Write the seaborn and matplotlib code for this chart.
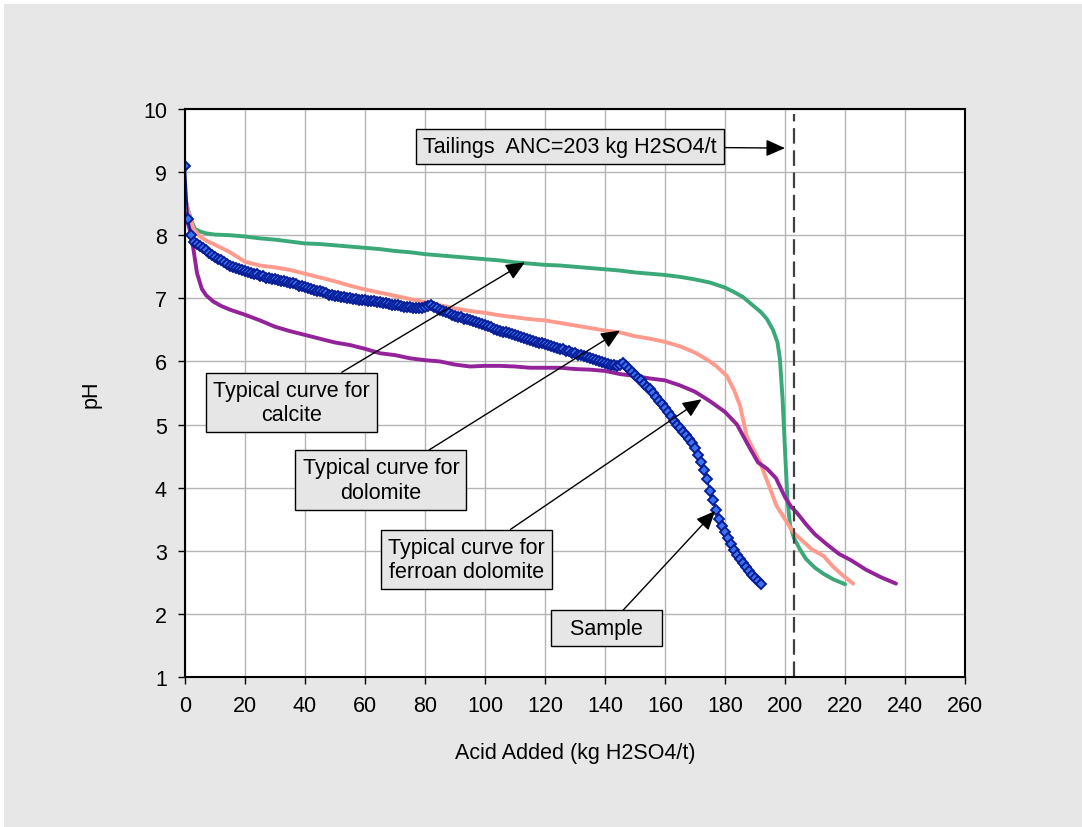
import pandas as pd
import matplotlib.pyplot as plt
import seaborn as sns
from matplotlib.patches import Rectangle

# valeurs
calcite_x = [0, 0.6, 2, 3.3, 5, 7, 10, 15, 20, 25, 30, 35, 40, 45, 50, 55, 60, 65, 70, 75,
             80, 85, 90, 95, 100, 105, 110, 115, 120, 125, 130, 135, 140, 145, 150, 155, 160,
             165, 170, 175, 180, 183, 186, 189, 192, 194, 196, 197.5, 198.3, 199.2, 200, 200.8,
             201.7, 203, 205, 207, 210, 213, 216, 220]
calcite_pH = [8.6, 8.47, 8.25, 8.1, 8.06, 8.03, 8.01, 8.0, 7.98, 7.95, 7.93, 7.9, 7.87, 7.86,
              7.84, 7.82, 7.8, 7.78, 7.75, 7.73, 7.7, 7.68, 7.66, 7.64, 7.62, 7.6, 7.57, 7.55,
              7.53, 7.52, 7.5, 7.48, 7.46, 7.44, 7.41, 7.39, 7.37, 7.34, 7.3, 7.25, 7.17, 7.1,
              7.02, 6.9, 6.78, 6.67, 6.5, 6.3, 6.04, 5.4, 4.6, 3.82, 3.4, 3.2, 3.02, 2.87, 2.73,
              2.63, 2.55, 2.47]

dolomite_x = [0, 1, 2.8, 5, 7.2, 10, 15, 20, 25, 30, 35, 40, 45, 50, 55, 60, 65, 70, 75, 80,
              85, 90, 95, 100, 105, 110, 115, 120, 125, 130, 135, 140, 145, 150, 155, 160, 165,
              170, 174, 177, 180.6, 183, 185, 187.2, 189.5, 191.7, 194.5, 197.2, 200, 202.8,
              206, 209, 212.8, 216, 219, 222.7]
dolomite_pH = [8.6, 8.4, 8.1, 7.98, 7.91, 7.85, 7.73, 7.58, 7.52, 7.49, 7.45, 7.39, 7.33, 7.27,
               7.2, 7.14, 7.09, 7.04, 6.99, 6.94, 6.89, 6.84, 6.8, 6.77, 6.73, 6.7, 6.67, 6.65,
               6.61, 6.57, 6.53, 6.49, 6.46, 6.4, 6.36, 6.31, 6.24, 6.14, 6.03, 5.93, 5.77, 5.55,
               5.3, 4.82, 4.6, 4.4, 4.05, 3.71, 3.5, 3.29, 3.15, 3.02, 2.92, 2.75, 2.62, 2.48]

ferroan_x = [0, 1.5, 2.8, 4, 5.6, 7, 9.4, 12, 15, 20, 25, 30, 35, 40, 45, 50, 55, 60, 65, 70,
             75, 80, 85, 90, 95, 100, 105, 110, 115, 120, 125, 130, 135, 140, 145, 150, 155,
             160, 165, 170, 175, 180, 184, 188, 191, 194, 197, 200, 202, 204, 207, 210, 214,
             218, 222, 227, 232, 237]
ferroan_pH = [8.35, 8.1, 7.78, 7.4, 7.15, 7.05, 6.95, 6.88, 6.82, 6.74, 6.65, 6.55, 6.48, 6.42,
              6.36, 6.3, 6.26, 6.2, 6.13, 6.1, 6.05, 6.02, 6.0, 5.95, 5.92, 5.93, 5.93, 5.92,
              5.9, 5.9, 5.9, 5.88, 5.87, 5.85, 5.8, 5.77, 5.73, 5.7, 5.62, 5.52, 5.37, 5.2, 5.0,
              4.65, 4.4, 4.3, 4.15, 3.85, 3.7, 3.6, 3.42, 3.26, 3.1, 2.95, 2.85, 2.7, 2.58, 2.48]

# échantillon : un point par kg ajouté
sample_x = [0, 1, 2, 3, 4, 5, 6, 7, 8, 9,
            10, 11, 12, 13, 14, 15, 16, 17, 18, 19,
            20, 21, 22, 23, 24, 25, 26, 27, 28, 29,
            30, 31, 32, 33, 34, 35, 36, 37, 38, 39,
            40, 41, 42, 43, 44, 45, 46, 47, 48, 49,
            50, 51, 52, 53, 54, 55, 56, 57, 58, 59,
            60, 61, 62, 63, 64, 65, 66, 67, 68, 69,
            70, 71, 72, 73, 74, 75, 76, 77, 78, 79,
            80, 81, 82, 83, 84, 85, 86, 87, 88, 89,
            90, 91, 92, 93, 94, 95, 96, 97, 98, 99,
            100, 101, 102, 103, 104, 105, 106, 107, 108, 109,
            110, 111, 112, 113, 114, 115, 116, 117, 118, 119,
            120, 121, 122, 123, 124, 125, 126, 127, 128, 129,
            130, 131, 132, 133, 134, 135, 136, 137, 138, 139,
            140, 141, 142, 143, 144, 145, 146, 147, 148, 149,
            150, 151, 152, 153, 154, 155, 156, 157, 158, 159,
            160, 161, 162, 163, 164, 165, 166, 167, 168, 169,
            170, 171, 172, 173, 174, 175, 176, 177, 178, 179,
            180, 181, 182, 183, 184, 185, 186, 187, 188, 189,
            190, 191, 192]
sample_pH = [9.1, 8.25, 8.0, 7.9, 7.86, 7.83, 7.8, 7.76, 7.72, 7.69,
             7.66, 7.62, 7.6, 7.57, 7.55, 7.52, 7.5, 7.48, 7.47, 7.45,
             7.44, 7.42, 7.4, 7.39, 7.38, 7.36, 7.35, 7.33, 7.32, 7.31,
             7.3, 7.29, 7.28, 7.27, 7.26, 7.25, 7.24, 7.22, 7.2, 7.19,
             7.18, 7.16, 7.15, 7.13, 7.12, 7.11, 7.1, 7.08, 7.06, 7.05,
             7.04, 7.03, 7.02, 7.02, 7.01, 7.0, 6.99, 6.99, 6.98, 6.97,
             6.97, 6.96, 6.95, 6.95, 6.94, 6.94, 6.93, 6.92, 6.91, 6.9,
             6.9, 6.89, 6.88, 6.87, 6.86, 6.86, 6.85, 6.84, 6.84, 6.85,
             6.86, 6.88, 6.9, 6.87, 6.84, 6.82, 6.8, 6.78, 6.76, 6.74,
             6.72, 6.71, 6.7, 6.68, 6.67, 6.65, 6.64, 6.62, 6.61, 6.59,
             6.58, 6.56, 6.54, 6.52, 6.5, 6.49, 6.47, 6.46, 6.45, 6.43,
             6.42, 6.4, 6.39, 6.37, 6.36, 6.34, 6.33, 6.31, 6.3, 6.29,
             6.28, 6.26, 6.25, 6.23, 6.22, 6.2, 6.19, 6.17, 6.16, 6.14,
             6.13, 6.11, 6.1, 6.08, 6.07, 6.05, 6.04, 6.02, 6.01, 5.99,
             5.98, 5.96, 5.95, 5.94, 5.93, 5.95, 5.97, 5.92, 5.88, 5.83,
             5.78, 5.74, 5.7, 5.65, 5.6, 5.56, 5.5, 5.44, 5.38, 5.32,
             5.26, 5.2, 5.13, 5.06, 5.0, 4.95, 4.88, 4.83, 4.77, 4.7,
             4.63, 4.52, 4.4, 4.28, 4.13, 3.95, 3.8, 3.64, 3.5, 3.4,
             3.3, 3.2, 3.1, 3.02, 2.94, 2.87, 2.8, 2.74, 2.68, 2.62,
             2.57, 2.52, 2.47]

anc = 203
x_ticks = [0, 20, 40, 60, 80, 100, 120, 140, 160, 180, 200, 220, 240, 260]
y_ticks = [1, 2, 3, 4, 5, 6, 7, 8, 9, 10]

calcite = pd.DataFrame({'acid': calcite_x, 'pH': calcite_pH})
dolomite = pd.DataFrame({'acid': dolomite_x, 'pH': dolomite_pH})
ferroan = pd.DataFrame({'acid': ferroan_x, 'pH': ferroan_pH})
sample = pd.DataFrame({'acid': sample_x, 'pH': sample_pH})

sns.set_style("whitegrid")
plt.rcParams['font.family'] = ['Liberation Sans', 'DejaVu Sans']
plt.rcParams['text.color'] = 'black'
plt.rcParams['axes.labelcolor'] = 'black'
plt.rcParams['xtick.color'] = 'black'
plt.rcParams['ytick.color'] = 'black'

fs = 15.5

fig = plt.figure(figsize=(10.82, 8.28), dpi=100, facecolor='white')
fig.patches.append(Rectangle((4 / 1082, 0), 1, 1 - 5 / 828, transform=fig.transFigure,
                             facecolor='#e7e7e7', edgecolor='none', zorder=-10))
ax = fig.add_axes([185 / 1082, 1 - 678 / 828, 780 / 1082, 568 / 828])
ax.set_facecolor('white')

sns.lineplot(data=calcite, x='acid', y='pH', color='#3aa878', lw=2.8,
             estimator=None, sort=False, ax=ax)
sns.lineplot(data=dolomite, x='acid', y='pH', color='#ff9a8c', lw=2.8,
             estimator=None, sort=False, ax=ax)
sns.lineplot(data=ferroan, x='acid', y='pH', color='#92239a', lw=2.8,
             estimator=None, sort=False, ax=ax)
sns.lineplot(data=sample, x='acid', y='pH', color='#061c96', lw=1.5, marker='D',
             markersize=5.5, markerfacecolor='#3c72f2', markeredgecolor='#061c96',
             markeredgewidth=1.35, estimator=None, sort=False, ax=ax)

# ligne verticale ANC des résidus
ax.plot([anc, anc], [1, 9.92], color='#404040', lw=1.6, ls=(0, (7, 3)))

ax.set_xlim(0, 260)
ax.set_ylim(1, 10)
ax.set_xticks(x_ticks)
ax.set_yticks(y_ticks)
ax.grid(True, color='#b5b5b5', lw=1)
for s in ax.spines.values():
    s.set_color('black')
    s.set_linewidth(1.5)
ax.tick_params(bottom=True, left=True, direction='out', length=5, width=1,
               color='black', labelsize=fs, pad=8)

ax.set_xlabel('Acid Added (kg H2SO4/t)', fontsize=fs)
ax.set_ylabel('pH', fontsize=fs)
ax.xaxis.set_label_coords(0.5, -0.114)
ax.yaxis.set_label_coords(-0.107, 0.5)

box = dict(boxstyle='square,pad=0.33', fc='#e6e6e6', ec='black', lw=1)
arrow = dict(arrowstyle='-|>,head_length=0.75,head_width=0.33', color='black', lw=1,
             shrinkA=0, shrinkB=0)

notes = [
    ('Tailings  ANC=203 kg H2SO4/t', (200, 9.38), (128.2, 9.41)),
    ('Typical curve for\ncalcite', (113.3, 7.57), (35.5, 5.35)),
    ('Typical curve for\ndolomite', (145, 6.49), (65.3, 4.12)),
    ('Typical curve for\nferroan dolomite', (172.2, 5.40), (93.7, 2.86)),
    ('  Sample  ', (176.7, 3.63), (140.5, 1.775)),
]
for txt, tip, pos in notes:
    ax.annotate(txt, xy=tip, xytext=pos, textcoords='data', ha='center', va='center',
                multialignment='center', fontsize=fs, bbox=box, arrowprops=arrow, zorder=5)

plt.savefig('out.png', dpi=100)
